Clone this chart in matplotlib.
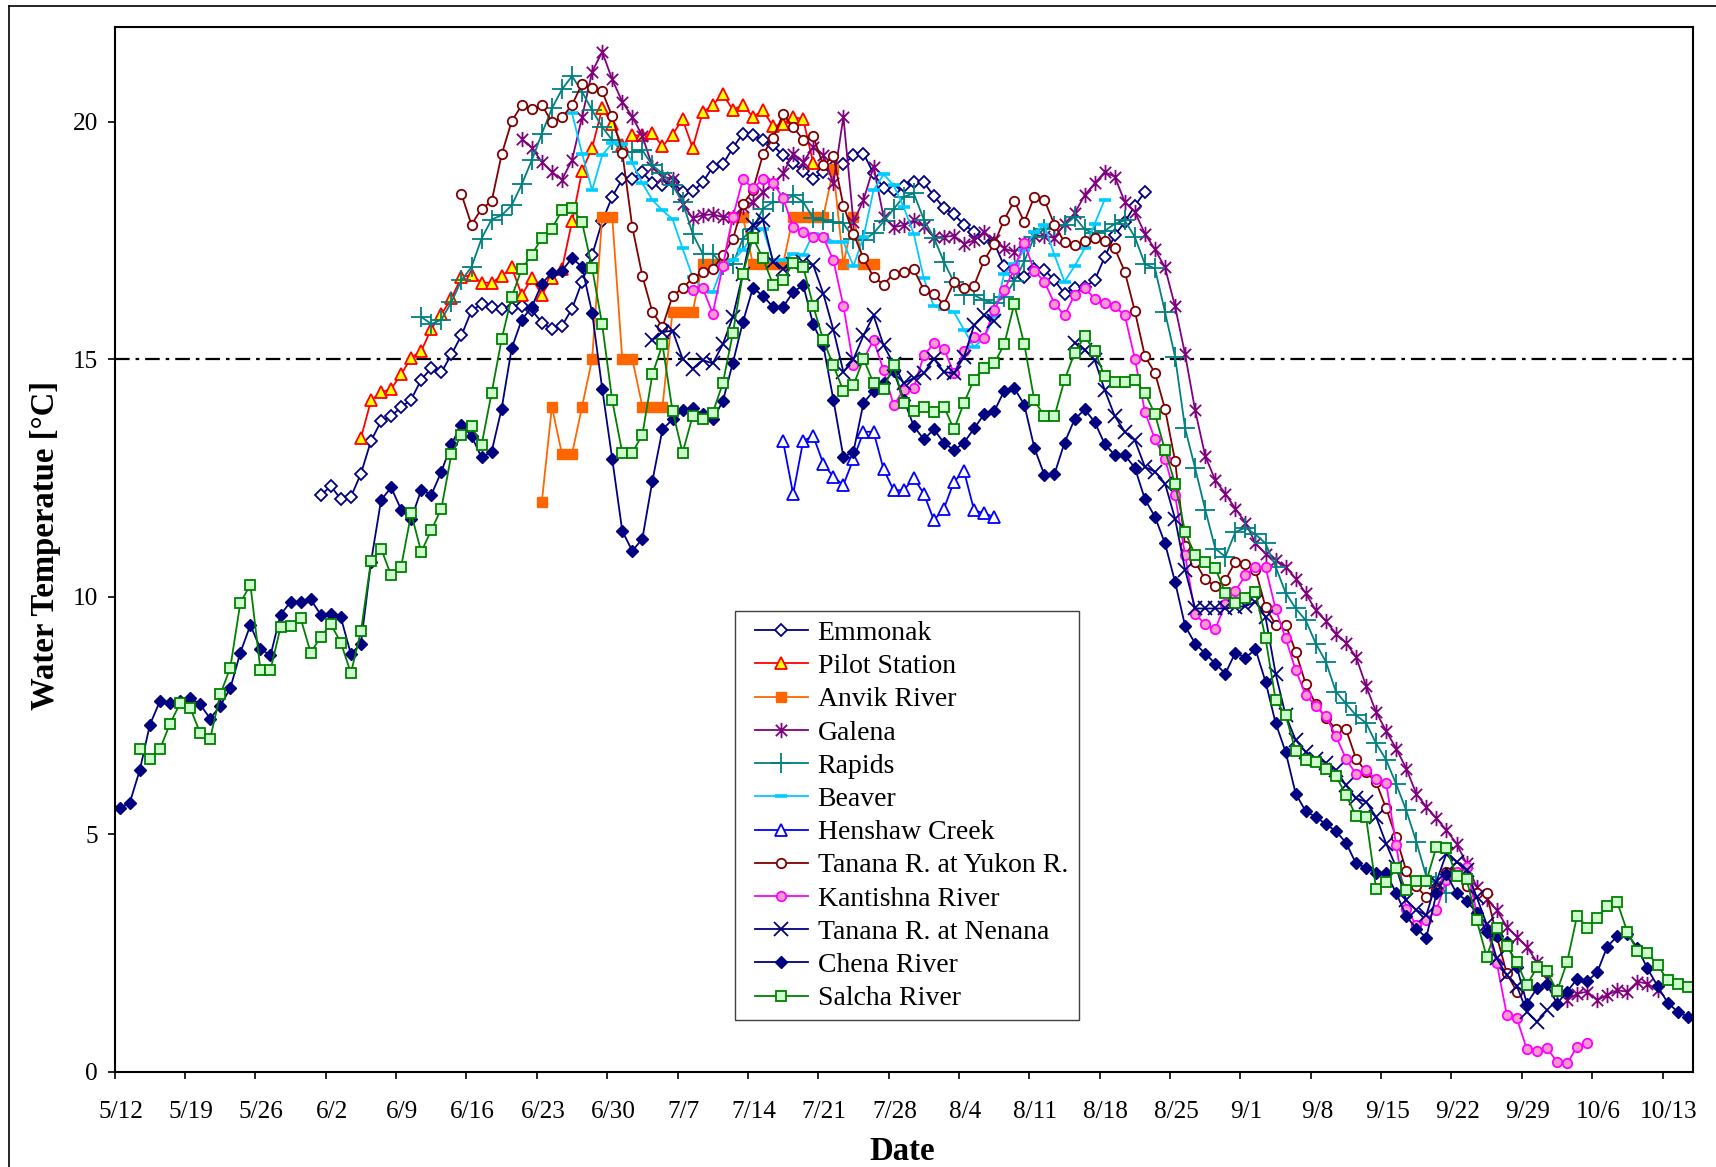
import numpy as np
import matplotlib
matplotlib.use('Agg')
import matplotlib.pyplot as plt
import matplotlib.transforms as mtransforms
from matplotlib.path import Path
from matplotlib.lines import Line2D
from matplotlib.patches import Rectangle

plt.rcParams['font.family'] = ['Liberation Serif', 'DejaVu Serif']
plt.rcParams['lines.scale_dashes'] = False

# ---------------- data (day index 0 = 5/12) ----------------
week_labels = ['5/12', '5/19', '5/26', '6/2', '6/9', '6/16', '6/23', '6/30', '7/7',
               '7/14', '7/21', '7/28', '8/4', '8/11', '8/18', '8/25', '9/1', '9/8',
               '9/15', '9/22', '9/29', '10/6', '10/13']

emmonak_start = 20
emmonak = [12.13, 12.33, 12.05, 12.1, 12.59, 13.28, 13.69, 13.8, 13.99, 14.15, 14.57, 14.81,
           14.72, 15.1, 15.5, 16.02, 16.16, 16.1, 16.06, 16.08, 16.12, 16.03, 15.77, 15.63,
           15.7, 16.06, 16.63, 17.19, 17.9, 18.42, 18.79, 18.79, 18.94, 18.7, 18.66, 18.73,
           18.52, 18.53, 18.72, 19.05, 19.1, 19.45, 19.75, 19.71, 19.62, 19.5, 19.29, 19.12,
           18.96, 18.8, 18.94, 19.05, 19.1, 19.29, 19.33, 18.91, 18.6, 18.56, 18.65, 18.73,
           18.72, 18.44, 18.18, 18.05, 17.83, 17.68, 17.55, 17.45, 16.96, 16.8, 16.73, 16.9,
           16.88, 16.66, 16.38, 16.49, 16.52, 16.66, 17.15, 17.61, 17.89, 18.23, 18.52]

pilot_start = 24
pilot = [13.34, 14.13, 14.3, 14.37, 14.68, 15.03, 15.17, 15.64, 15.94, 16.28, 16.73, 16.77,
         16.61, 16.61, 16.75, 16.93, 16.35, 16.7, 16.36, 16.7, 16.9, 17.9, 18.96, 19.45,
         20.28, 19.96, 19.5, 19.71, 19.71, 19.76, 19.48, 19.73, 20.05, 19.45, 20.2, 20.35,
         20.58, 20.25, 20.35, 20.1, 20.24, 19.9, 19.96, 20.1, 20.05, 19.13]

anvik_start = 42
anvik = [12, 14, 13, 13, 14, 15, 18, 18, 15, 15, 14, 14, 14, 16, 16, 16, 17, 17, 17, 18,
         18, 17, 17, 17, 17, 18, 18, 18, 18, 19, 17, 18, 17, 17]

galena_start = 40
galena = [19.64, 19.45, 19.15, 18.94, 18.78, 19.19, 20.1, 21.05, 21.47, 20.89, 20.42, 20.1,
          19.7, 19.05, 18.84, 18.8, 18.27, 17.97, 18.03, 18.05, 17.99, 17.99, 18.2, 18.31,
          18.52, 18.7, 18.91, 19.33, 19.15, 19.47, 19.3, 18.7, 20.1, 17.89, 18.35, 19.05,
          17.99, 17.78, 17.82, 17.92, 17.8, 17.57, 17.57, 17.6, 17.43, 17.5, 17.68, 17.5,
          17.33, 17.26, 17.45, 17.6, 17.6, 17.55, 17.85, 18.07, 18.45, 18.7, 18.94, 18.84,
          18.31, 18.1, 17.64, 17.31, 16.93, 16.11, 15.1, 13.92, 12.96, 12.45, 12.17, 11.85,
          11.56, 11.12, 10.9, 10.77, 10.63, 10.38, 10.07, 9.71, 9.49, 9.22, 9.03, 8.73, 8.12,
          7.57, 7.17, 6.8, 6.38, 5.85, 5.57, 5.33, 5.08, 4.8, 4.38, 3.89, 3.64, 3.4, 3.05,
          2.84, 2.63, 2.3, 1.95, 1.7, 1.5, 1.64, 1.68, 1.5, 1.61, 1.71, 1.68, 1.89, 1.85, 1.71]

rapids_start = 30
rapids = [15.89, 15.74, 15.83, 16.2, 16.66, 16.94, 17.54, 17.94, 18.03, 18.24, 18.68, 19.19,
          19.75, 20.28, 20.68, 20.96, 20.63, 20.24, 19.89, 19.61, 19.36, 19.36, 19.4, 19.08,
          18.91, 18.66, 18.31, 17.64, 17.22, 17.22, 16.98, 17.0, 17.54, 17.75, 18.17, 18.31,
          18.31, 18.45, 18.31, 17.97, 17.92, 17.88, 17.86, 17.54, 17.5, 17.65, 17.9, 18.16,
          18.42, 18.49, 17.94, 17.56, 17.05, 16.62, 16.36, 16.35, 16.24, 16.18, 16.3, 16.64,
          17.06, 17.58, 17.74, 17.8, 17.82, 18.0, 17.73, 17.65, 17.7, 17.85, 17.92, 17.57,
          17.0, 16.91, 15.99, 15.05, 13.54, 12.7, 11.83, 11.01, 10.84, 11.36, 11.45, 11.31,
          11.12, 10.63, 10.08, 9.75, 9.5, 9.01, 8.63, 8.0, 7.75, 7.5, 7.34, 6.91, 6.56, 6.05,
          5.5, 4.84, 4.1, 4.0, 3.75]

beaver_start = 45
beaver = [20.18, 19.33, 18.56, 19.29, 19.55, 19.54, 19.13, 18.7, 18.35, 18.13, 17.95, 17.33,
          16.73, 16.5, 16.41, 16.98, 17.08, 17.3, 17.6, 17.75, 17.08, 17.08, 17.22, 17.2,
          17.64, 17.62, 17.47, 17.47, 16.96, 17.57, 18.56, 18.89, 18.66, 18.2, 17.64, 16.7,
          16.11, 16.06, 15.99, 15.62, 15.25, 15.45, 15.9, 16.8, 17.0, 17.3, 17.68, 17.82,
          17.19, 16.63, 16.96, 17.33, 17.85, 18.36]

henshaw_start = 66
henshaw = [13.27, 12.16, 13.28, 13.38, 12.8, 12.52, 12.35, 12.9, 13.47, 13.47, 12.68, 12.24,
           12.24, 12.49, 12.17, 11.61, 11.85, 12.42, 12.64, 11.82, 11.75, 11.68]

tanana_yukon_start = 34
tanana_yukon = [18.47, 17.83, 18.17, 18.32, 19.31, 20.01, 20.35, 20.26, 20.35, 19.99, 20.09,
                20.35, 20.8, 20.71, 20.64, 20.11, 19.35, 17.78, 16.75, 15.99, 15.68, 16.33,
                16.5, 16.7, 16.84, 16.9, 17.19, 17.52, 18.26, 18.56, 19.31, 19.66, 20.16,
                19.89, 19.62, 19.69, 19.08, 19.28, 18.23, 17.64, 17.12, 16.73, 16.57, 16.8,
                16.84, 16.89, 16.46, 16.37, 16.15, 16.62, 16.49, 16.55, 17.08, 17.43, 17.94,
                18.33, 17.89, 18.42, 18.35, 17.83, 17.46, 17.41, 17.48, 17.56, 17.49, 17.33,
                16.84, 16.01, 15.06, 14.71, 13.95, 12.86, 11.06, 10.73, 10.36, 10.22, 10.35,
                10.73, 10.68, 10.56, 9.78, 9.41, 9.41, 8.84, 8.16, 7.73, 7.45, 7.21, 7.21,
                6.59, 6.31, 6.09, 5.54, 4.93, 4.23, 3.9, 3.67, 3.82, 4.2, 4.3, 3.9, 3.75, 3.75,
                2.85, 2.07, 1.68]

kantishna_start = 57
kantishna = [16.46, 16.5, 15.96, 16.96, 17.99, 18.79, 18.6, 18.79, 18.71, 18.39, 17.78, 17.68,
             17.57, 17.57, 17.08, 16.12, 14.87, 15.0, 15.4, 14.77, 14.03, 14.35, 14.4, 15.08,
             15.33, 15.22, 14.7, 15.17, 15.47, 15.45, 16.04, 16.46, 16.89, 17.45, 16.86,
             16.63, 16.17, 15.92, 16.35, 16.5, 16.27, 16.18, 16.11, 15.92, 15.01, 13.89,
             13.31, 12.9, 12.13, 10.87, 9.63, 9.42, 9.31, 9.85, 10.12, 10.45, 10.63, 10.62,
             9.74, 9.12, 8.45, 7.93, 7.69, 7.48, 7.06, 6.59, 6.26, 6.35, 6.15, 6.07, 4.77,
             3.43, 3.08, 3.19, 3.4, 4.03, 4.2, 4.31, 3.36, 3.0, 2.29, 1.2, 1.12, 0.47, 0.43,
             0.5, 0.2, 0.17, 0.52, 0.59]

nenana_start = 53
nenana = [15.4, 15.57, 15.6, 15.01, 14.8, 14.98, 14.91, 15.31, 15.89, 16.8, 17.82, 17.92,
          17.05, 16.9, 17.0, 17.05, 16.98, 16.38, 15.62, 14.73, 15.0, 15.5, 15.92, 15.29,
          14.9, 14.49, 14.6, 14.7, 15.01, 14.73, 14.7, 15.05, 15.71, 15.92, 15.8,
          None, None, None, None, None, None, None,
          15.35, 15.2, 14.98, 14.35, 13.8, 13.47, 13.29, 12.73, 12.63, 12.38, 11.64, 10.56,
          9.75, 9.75, 9.75, 9.75, 9.78, 9.8, 9.89, 9.57, 8.38, 7.5, 6.98, 6.73, 6.59, 6.5,
          6.35, 6.03, 5.75, 5.68, 5.36, 4.8, 4.3, 3.61, 3.4, 3.29, 4.0, 4.59, 4.42, 4.24,
          3.68, 3.1, 2.38, 2.03, 1.8, 1.26, 1.05, 1.29]

chena_start = 0
chena = [5.55, 5.66, 6.35, 7.3, 7.8, 7.76, 7.8, 7.87, 7.73, 7.43, 7.7, 8.07, 8.82, 9.4, 8.9,
         8.76, 9.62, 9.89, 9.89, 9.94, 9.62, 9.64, 9.56, 8.79, 9.01, 10.73, 12.03, 12.3, 11.83,
         11.63, 12.25, 12.14, 12.63, 13.21, 13.62, 13.38, 12.93, 13.05, 13.96, 15.23, 15.83,
         16.1, 16.59, 16.82, 16.86, 17.13, 16.94, 15.98, 14.38, 12.9, 11.38, 10.96, 11.22,
         12.44, 13.52, 13.73, 13.92, 13.97, 13.84, 13.73, 14.11, 14.92, 15.78, 16.5, 16.33,
         16.1, 16.1, 16.41, 16.56, 15.73, 15.29, 14.15, 12.94, 13.05, 14.08, 14.33, 14.5,
         14.75, 14.15, 13.59, 13.31, 13.52, 13.24, 13.08, 13.24, 13.54, 13.84, 13.9, 14.33,
         14.39, 14.04, 13.13, 12.56, 12.58, 13.24, 13.73, 13.94, 13.68, 13.21, 12.98, 12.98,
         12.71, 12.05, 11.68, 11.12, 10.31, 9.38, 9.01, 8.8, 8.59, 8.38, 8.82, 8.71, 8.89,
         8.21, 7.34, 6.73, 5.85, 5.48, 5.36, 5.21, 5.06, 4.82, 4.38, 4.29, 4.18, 4.17, 3.76,
         3.27, 3.01, 2.82, 3.75, 4.15, 3.76, 3.6, 3.34, 2.94, 2.85, 2.73, 2.2, 1.43, 1.75,
         1.84, 1.43, 1.68, 1.95, 1.9, 2.09, 2.63, 2.85, 2.9, 2.6, 2.17, 1.8, 1.45, 1.26, 1.15]

salcha_start = 2
salcha = [6.79, 6.59, 6.79, 7.32, 7.75, 7.66, 7.13, 7.01, 7.94, 8.5, 9.87, 10.25, 8.46, 8.46,
          9.35, 9.38, 9.54, 8.82, 9.15, 9.42, 9.03, 8.39, 9.27, 10.75, 11.01, 10.45, 10.63,
          11.75, 10.94, 11.4, 11.85, 13.0, 13.41, 13.59, 13.19, 14.29, 15.42, 16.31, 16.9,
          17.19, 17.56, 17.75, 18.13, 18.18, 17.88, 16.92, 15.73, 14.13, 13.03, 13.03, 13.41,
          14.68, 15.31, 13.91, 13.03, 13.8, 13.73, 13.87, 14.49, 15.54, 16.8, 17.56, 17.12,
          16.57, 16.66, 17.03, 16.94, 16.12, 15.4, 14.87, 14.33, 14.45, 15.01, 14.49, 14.37,
          14.87, 14.08, 13.91, 14.0, 13.89, 14.0, 13.52, 14.08, 14.57, 14.82, 14.91, 15.31,
          16.16, 15.31, 14.13, 13.8, 13.8, 14.56, 15.13, 15.48, 15.17, 14.64, 14.52, 14.52,
          14.56, 14.29, 13.84, 13.08, 12.38, 11.36, 10.87, 10.72, 10.6, 10.08, 9.87, 9.97,
          10.1, 9.12, 7.83, 7.5, 6.75, 6.56, 6.52, 6.37, 6.22, 5.83, 5.38, 5.35, 3.85, 3.99,
          4.28, 3.82, 4.01, 4.01, 4.73, 4.7, 4.12, 4.05, 3.19, 2.42, 3.03, 2.64, 2.3, 1.82,
          2.19, 2.11, 1.69, 2.3, 3.28, 3.03, 3.24, 3.48, 3.56, 2.94, 2.53, 2.49, 2.25, 1.92,
          1.84, 1.77]

threshold = 15

# ---------------- styles ----------------
star = Path([(-1, -1), (1, 1), (-1, 1), (1, -1), (0, -1.35), (0, 1.35)],
            [Path.MOVETO, Path.LINETO, Path.MOVETO, Path.LINETO, Path.MOVETO, Path.LINETO])

series = [
    ('Emmonak', emmonak_start, emmonak,
     dict(color='#000080', marker='D', ms=5.8, mfc='white', mec='#000080', mew=1.3)),
    ('Pilot Station', pilot_start, pilot,
     dict(color='#FF0000', marker='^', ms=8.5, mfc='#FFFF00', mec='#FF0000', mew=1.3)),
    ('Anvik River', anvik_start, anvik,
     dict(color='#FF6600', marker='s', ms=7, mfc='#FF6600', mec='#FF6600', mew=1)),
    ('Galena', galena_start, galena,
     dict(color='#800080', marker=star, ms=11, mfc='none', mec='#800080', mew=1.3)),
    ('Rapids', rapids_start, rapids,
     dict(color='#008080', marker='+', ms=14, mec='#008080', mew=1.3)),
    ('Beaver', beaver_start, beaver,
     dict(color='#00CCFF', marker='_', ms=9, mec='#00CCFF', mew=2.6)),
    ('Henshaw Creek', henshaw_start, henshaw,
     dict(color='#0000FF', marker='^', ms=8, mfc='white', mec='#0000FF', mew=1.3)),
    ('Tanana R. at Yukon R.', tanana_yukon_start, tanana_yukon,
     dict(color='#800000', marker='o', ms=6.8, mfc='white', mec='#800000', mew=1.3)),
    ('Kantishna River', kantishna_start, kantishna,
     dict(color='#FF00FF', marker='o', ms=6.8, mfc='#FF99CC', mec='#FF00FF', mew=1.3)),
    ('Tanana R. at Nenana', nenana_start, nenana,
     dict(color='#000080', marker='x', ms=10, mec='#000080', mew=1.3)),
    ('Chena River', chena_start, chena,
     dict(color='#000080', marker='D', ms=5.8, mfc='#000080', mec='#000080', mew=1)),
    ('Salcha River', salcha_start, salcha,
     dict(color='#008000', marker='s', ms=6.5, mfc='#CCFFCC', mec='#008000', mew=1.3)),
]

W, H = 1716, 1167
fig = plt.figure(figsize=(W / 100, H / 100), dpi=100)
ax = fig.add_axes([114.7 / W, 1 - 1071.5 / H, (1692.7 - 114.7) / W, (1071.5 - 26.7) / H])

handles = []
for name, start, vals, st in series:
    y = np.array([np.nan if v is None else v for v in vals], dtype=float)
    x = np.arange(start, start + len(y)) + 0.5
    ln, = ax.plot(x, y, lw=1.3, label=name, **st)
    handles.append(ln)

ax.axhline(threshold, color='black', lw=1.6, dashes=(10.5, 4.3, 2.6, 4.3), zorder=1.5)

ax.set_xlim(0, 157)
ax.set_ylim(0, 22)
ax.set_xticks(np.arange(0, 7 * len(week_labels), 7))
ax.set_xticklabels(week_labels)
ax.set_yticks([0, 5, 10, 15, 20])
ax.tick_params(direction='out', length=5, width=1.2, labelsize=18.2)
ax.tick_params(axis='y', pad=7)
ax.tick_params(axis='x', pad=16)
for sp in ax.spines.values():
    sp.set_linewidth(1.5)

offset = mtransforms.ScaledTranslation(6.0 / 100, 0, fig.dpi_scale_trans)
for lab in ax.get_xticklabels():
    lab.set_transform(lab.get_transform() + offset)

fig.text(46 / W, 1 - 546 / H, 'Water Temperatue [°C]', rotation=90, ha='center',
         va='center', fontsize=23.6, fontweight='bold')
fig.text(901.8 / W, 1 - 1151 / H, 'Date', ha='center', va='center',
         fontsize=23.6, fontweight='bold')

# legend frame drawn separately, entries placed inside it
fig.add_artist(Rectangle((735 / W, 1 - 1020 / H), (1079 - 735) / W, (1020 - 610.7) / H,
                         transform=fig.transFigure, facecolor='white', edgecolor='#404040',
                         lw=1.0, zorder=4))
leg = fig.legend(handles=handles, loc='upper left',
                 bbox_to_anchor=(755 / W, 1 - 620.5 / H), bbox_transform=fig.transFigure,
                 borderaxespad=0, borderpad=0, fontsize=20, numpoints=1, handlelength=1.9,
                 handletextpad=0.35, labelspacing=0.28, frameon=False)
leg.set_zorder(5)

# chart-area border (left and top)
fig.add_artist(Line2D([9 / W, 9 / W], [0, 1 - 5.5 / H], transform=fig.transFigure,
                      color='black', lw=1.2))
fig.add_artist(Line2D([9 / W, 1], [1 - 5.5 / H, 1 - 5.5 / H], transform=fig.transFigure,
                      color='black', lw=1.2))

fig.savefig('out.png', dpi=100)
